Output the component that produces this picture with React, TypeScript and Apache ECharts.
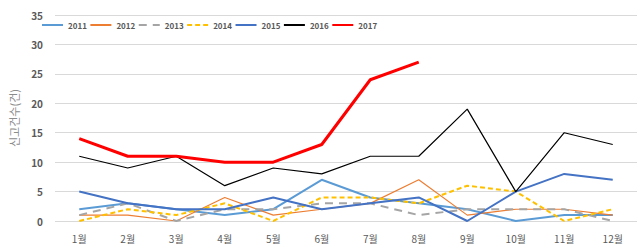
import React, { useEffect, useRef } from "react";
import * as echarts from "echarts";

const months = ["1월", "2월", "3월", "4월", "5월", "6월", "7월", "8월", "9월", "10월", "11월", "12월"];
const s2011 = [2, 3, 2, 1, 2, 7, 4, 3, 2, 0, 1, 1];
const s2012 = [1, 1, 0, 4, 1, 2, 3, 7, 1, 2, 2, 1];
const s2013 = [1, 3, 0, 2, 2, 3, 3, 1, 2, 2, 2, 0];
const s2014 = [0, 2, 1, 3, 0, 4, 4, 3, 6, 5, 0, 2];
const s2015 = [5, 3, 2, 2, 4, 2, 3, 4, 0, 5, 8, 7];
const s2016 = [11, 9, 11, 6, 9, 8, 11, 11, 19, 5, 15, 13];
const s2017 = [14, 11, 11, 10, 10, 13, 24, 27];

const seriesDefs = [
  { name: "2011", data: s2011, color: "#5B9BD5", width: 2, type: "solid" },
  { name: "2012", data: s2012, color: "#ED7D31", width: 1.2, type: "solid" },
  { name: "2013", data: s2013, color: "#A5A5A5", width: 2, type: [8, 6] },
  { name: "2014", data: s2014, color: "#FFC000", width: 2, type: [5, 3] },
  { name: "2015", data: s2015, color: "#4472C4", width: 2, type: "solid" },
  { name: "2016", data: s2016, color: "#000000", width: 1.2, type: "solid" },
  { name: "2017", data: s2017, color: "#FF0000", width: 3, type: "solid" },
];

export default function App() {
  const ref = useRef<HTMLDivElement>(null);
  useEffect(() => {
    const chart = echarts.init(ref.current!, null, { renderer: "svg" });
    chart.setOption({
      animation: false,
      textStyle: { fontFamily: "'Noto Sans CJK KR', 'Noto Sans', sans-serif" },
      grid: { left: 43, right: 6, top: 15, bottom: 28 },
      legend: {
        top: 21,
        left: 41,
        padding: 0,
        itemWidth: 21,
        itemHeight: 10,
        itemGap: 2.5,
        itemStyle: { opacity: 0 },
        textStyle: { fontSize: 8, fontWeight: "bold", color: "#595959" },
        data: seriesDefs.map((s) => s.name),
      },
      xAxis: {
        type: "category",
        data: months,
        boundaryGap: true,
        axisLine: { show: false },
        axisTick: { show: false },
        axisLabel: { fontSize: 10, color: "#595959", margin: 12 },
      },
      yAxis: {
        type: "value",
        min: 0,
        max: 35,
        interval: 5,
        name: "신고건수(건)",
        nameLocation: "middle",
        nameGap: 36,
        nameTextStyle: { fontSize: 11, color: "#8c8c8c" },
        axisLabel: { fontSize: 10, fontWeight: "bold", color: "#595959", margin: 12 },
        splitLine: { lineStyle: { color: "#D9D9D9", width: 1 } },
      },
      series: seriesDefs.map((s) => ({
        name: s.name,
        type: "line",
        data: s.data,
        symbol: "none",
        color: s.color,
        lineStyle: { color: s.color, width: s.width, type: s.type },
      })),
    });
    return () => chart.dispose();
  }, []);
  return <div ref={ref} style={{ width: 643, height: 249, position: "absolute", left: 0, top: 0 }} />;
}
